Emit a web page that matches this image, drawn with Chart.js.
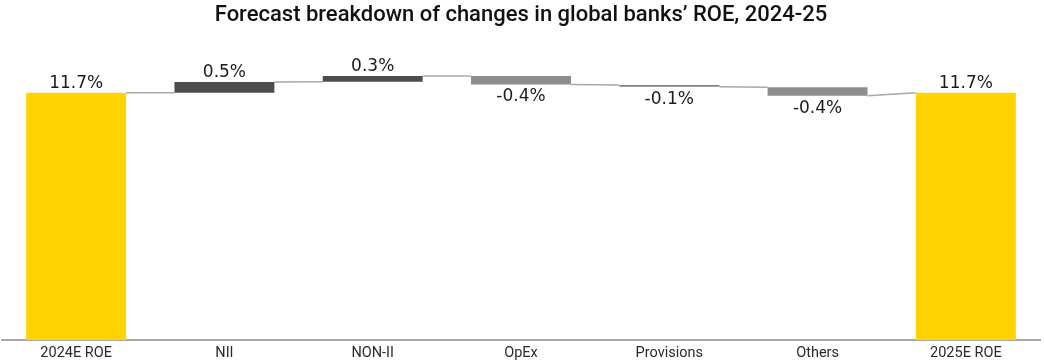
<!DOCTYPE html>
<html>
<head>
<meta charset="utf-8">
<title>Global banks ROE</title>
<script src="https://cdn.jsdelivr.net/npm/chart.js@4"></script>
<style>
    html, body { margin: 0; padding: 0; background: #ffffff; }
    #wrap { width: 1044px; height: 362px; position: relative; }
</style>
</head>
<body>
<div id="wrap"><canvas id="roe-waterfall"></canvas></div>
<script>
// categories along the x axis
const categories = ["2024E ROE", "NII", "NON-II", "OpEx", "Provisions", "Others", "2025E ROE"];
// change shown in each label (%)
const changes = [11.7, 0.5, 0.3, -0.4, -0.1, -0.4, 11.7];
// floating bar ends (ROE %)
const barStart = [0, 11.7, 12.22, 12.49, 12.06, 11.95, 0];
const barEnd = [11.7, 12.2, 12.49, 12.09, 11.98, 11.55, 11.7];
// totals vs. step bars
const isTotal = [true, false, false, false, false, false, true];

const barColors = ["#FFD200", "#4D4D4F", "#4D4D4F", "#8A8C8E", "#808284", "#8A8C8E", "#FFD200"];

var ranges = categories.map(function (c, i) {
    return [barStart[i], barEnd[i]];
});

// thin connectors between the bars
var connectors = {
    id: "connectors",
    beforeDatasetsDraw: function (chart) {
        var meta = chart.getDatasetMeta(0);
        var y = chart.scales.y;
        var ctx = chart.ctx;
        ctx.save();
        ctx.strokeStyle = "#A6A8AB";
        ctx.lineWidth = 1.5;
        for (var i = 0; i < meta.data.length - 1; i++) {
            var a = meta.data[i], b = meta.data[i + 1];
            var from = barEnd[i];
            var to = isTotal[i + 1] ? barEnd[i + 1] : barStart[i + 1];
            ctx.beginPath();
            ctx.moveTo(a.x + a.width / 2, y.getPixelForValue(from));
            ctx.lineTo(b.x - b.width / 2, y.getPixelForValue(to));
            ctx.stroke();
        }
        ctx.restore();
    }
};

// value labels above / below each bar
var valueLabels = {
    id: "valueLabels",
    afterDatasetsDraw: function (chart) {
        var meta = chart.getDatasetMeta(0);
        var y = chart.scales.y;
        var ctx = chart.ctx;
        ctx.save();
        ctx.font = "17px 'DejaVu Sans'";
        ctx.fillStyle = "#1a1a1a";
        ctx.textAlign = "center";
        meta.data.forEach(function (bar, i) {
            var txt = changes[i].toFixed(1) + "%";
            if (changes[i] >= 0) {
                ctx.textBaseline = "bottom";
                ctx.fillText(txt, bar.x, y.getPixelForValue(Math.max(barStart[i], barEnd[i])) - 1);
            } else {
                ctx.textBaseline = "top";
                ctx.fillText(txt, bar.x, y.getPixelForValue(Math.min(barStart[i], barEnd[i])) + 4);
            }
        });
        ctx.restore();
    }
};

var ctx = document.getElementById("roe-waterfall").getContext("2d");
var roeChart = new Chart(ctx, {
    type: "bar",
    data: {
        labels: categories,
        datasets: [{
            data: ranges,
            backgroundColor: barColors,
            borderWidth: 0,
            borderSkipped: false,
            categoryPercentage: 1,
            barPercentage: 0.674
        }]
    },
    options: {
        responsive: true,
        maintainAspectRatio: false,
        animation: false,
        layout: { padding: { left: 2, right: 4, bottom: 0, top: 0 } },
        plugins: {
            legend: { display: false },
            tooltip: { enabled: false },
            title: {
                display: true,
                text: "Forecast breakdown of changes in global banks\u2019 ROE, 2024-25",
                color: "#111111",
                font: { family: "Roboto", size: 22, weight: "500" },
                padding: { top: 2, bottom: 15.6 }
            }
        },
        scales: {
            x: {
                grid: { display: false, drawTicks: false },
                border: { color: "#A6A8AB", width: 2 },
                ticks: {
                    color: "#2a2a2a",
                    padding: 5,
                    font: { family: "Roboto", size: 14.5 }
                },
                afterFit: function (scale) {
                    scale.height = 22;
                }
            },
            y: {
                display: false,
                min: 0,
                max: 14
            }
        }
    },
    plugins: [connectors, valueLabels]
});
</script>
</body>
</html>
